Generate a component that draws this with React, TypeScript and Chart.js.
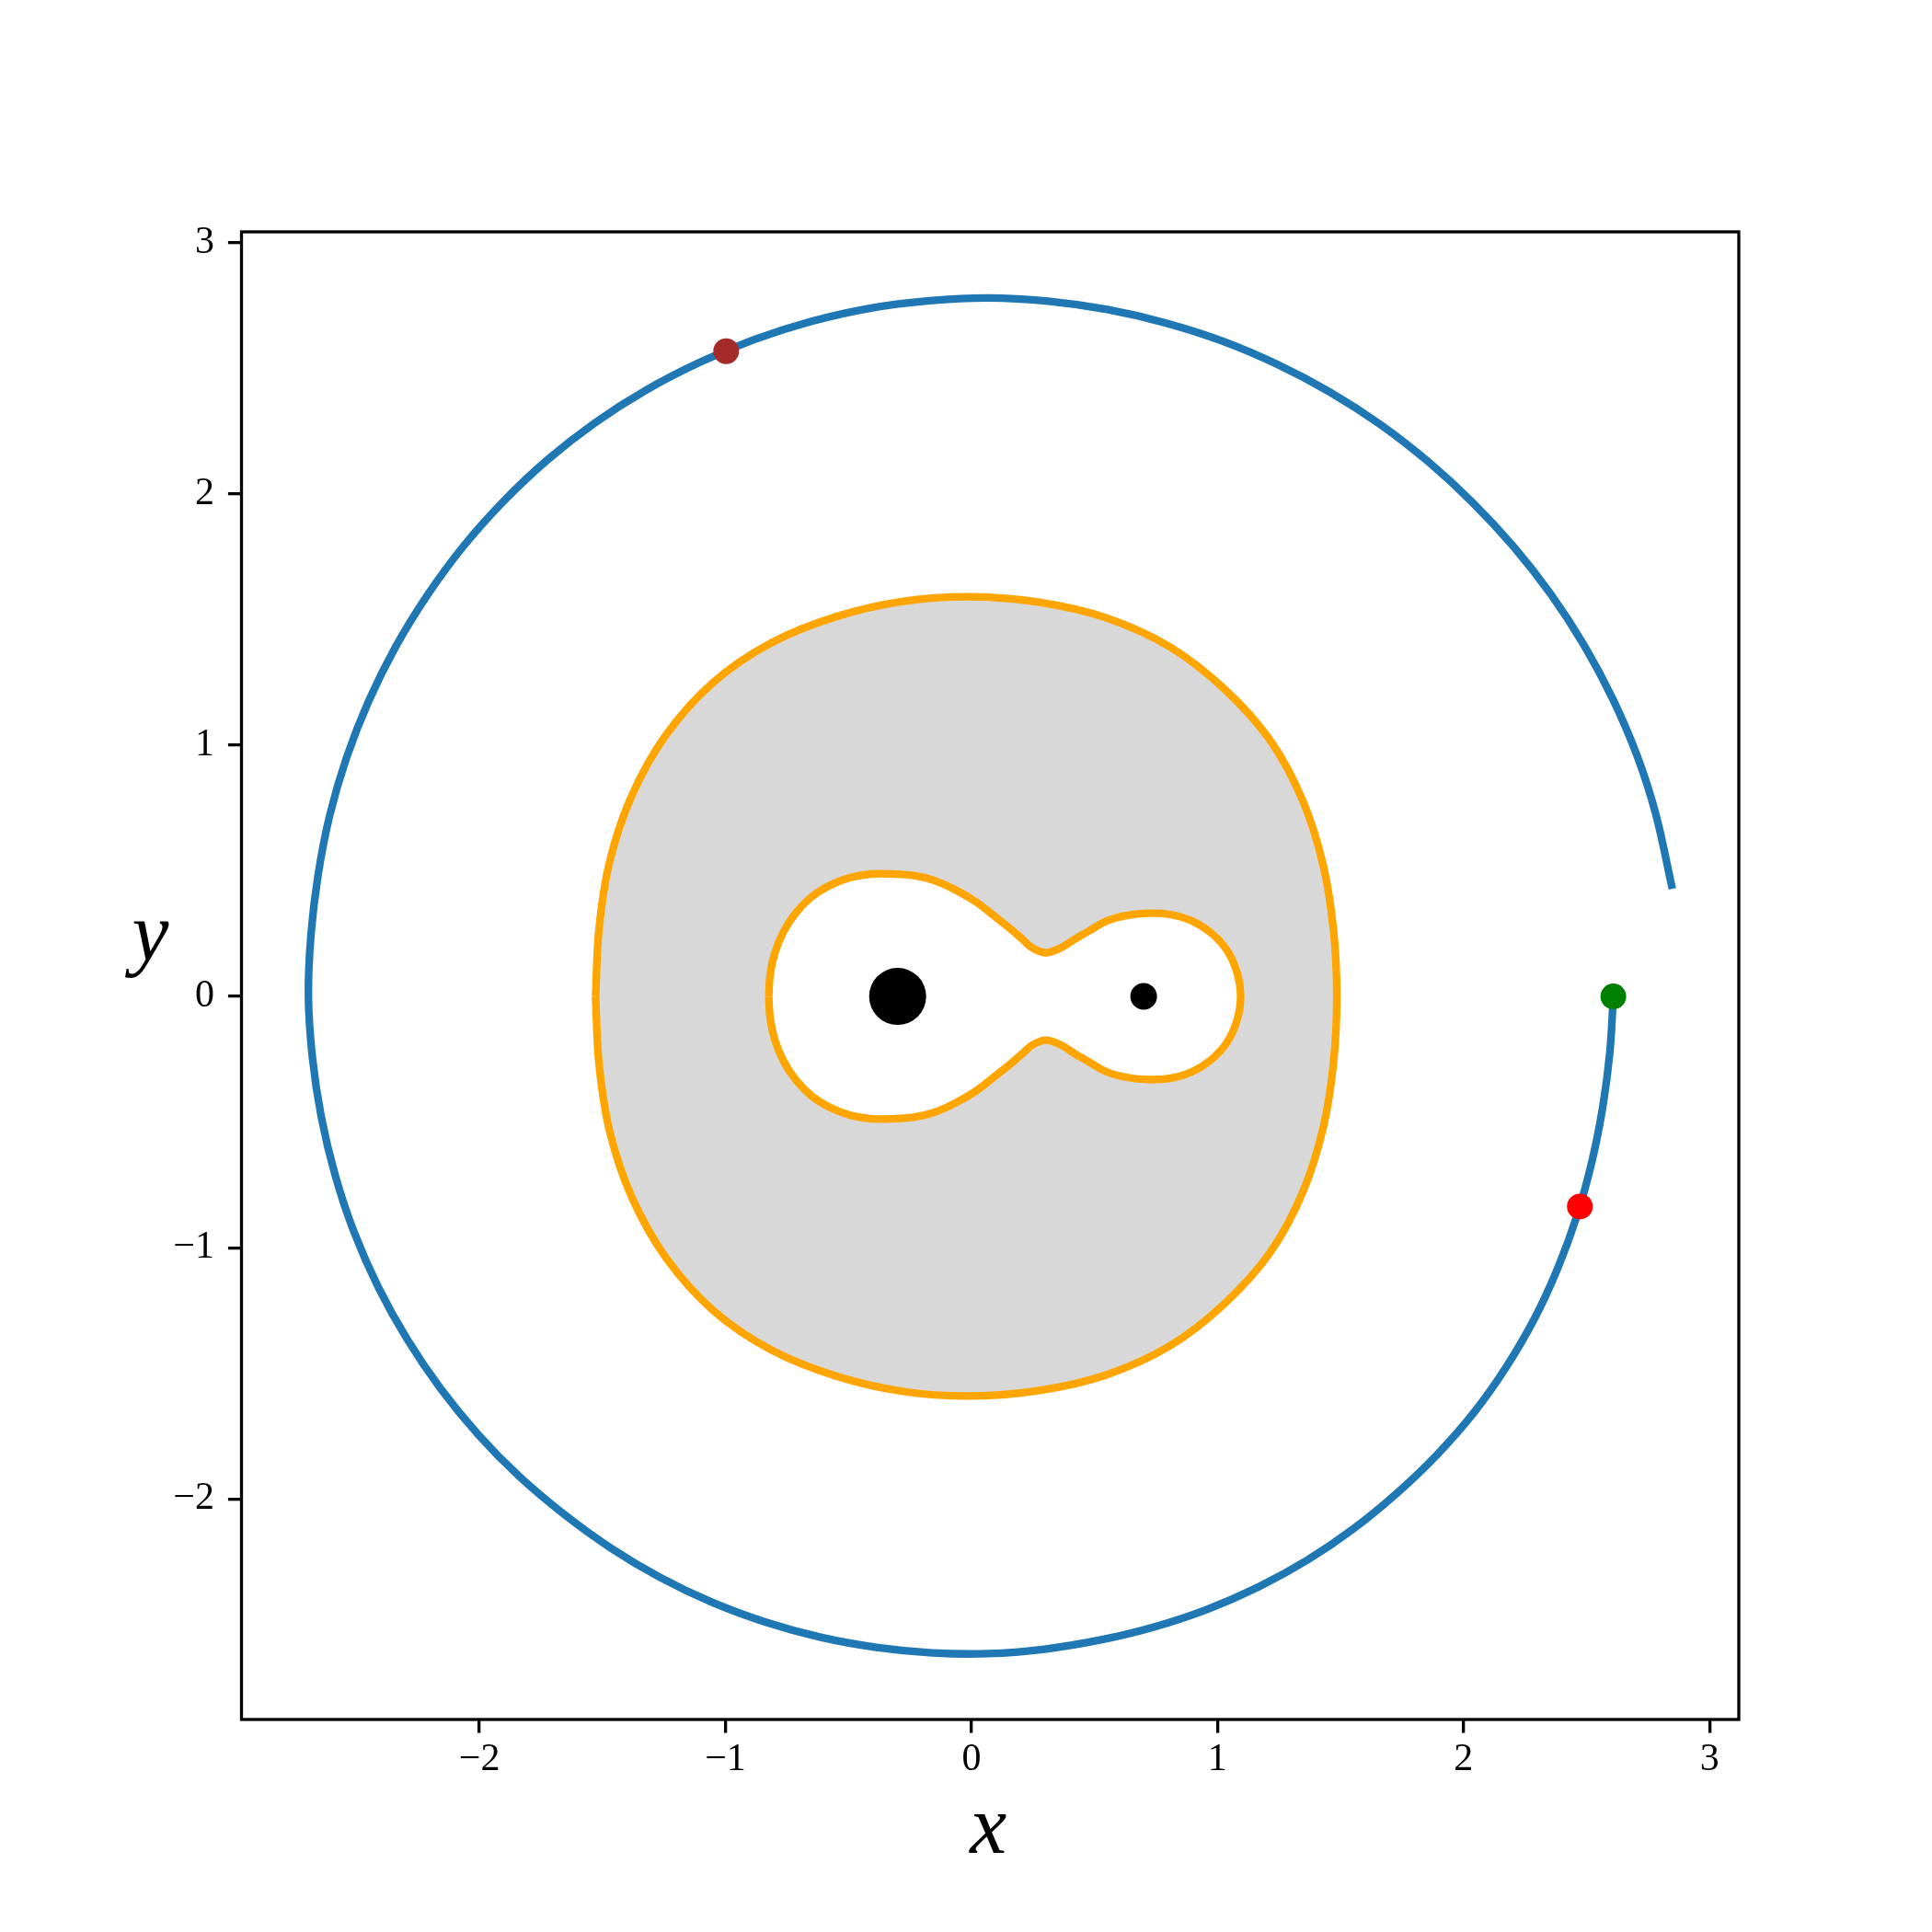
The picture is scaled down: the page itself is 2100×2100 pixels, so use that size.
import React, { useEffect, useRef } from 'react';
import { Chart, registerables } from 'chart.js';

Chart.register(...registerables);

// ---- axis ticks ----
const xTickValues = [-2, -1, 0, 1, 2, 3];
const yTickValues = [-2, -1, 0, 1, 2, 3];

// ---- trajectory (blue), starting at the green point ----
const trajectoryX = [
  2.609, 2.595, 2.566, 2.522, 2.462, 2.384, 2.289, 2.174, 2.043, 1.893,
  1.729, 1.553, 1.365, 1.166, 0.958, 0.742, 0.522, 0.297, 0.070, -0.159,
  -0.387, -0.613, -0.836, -1.054, -1.265, -1.467, -1.658, -1.839, -2.006, -2.158,
  -2.293, -2.411, -2.509, -2.586, -2.643, -2.679, -2.695, -2.685, -2.656, -2.609,
  -2.540, -2.450, -2.340, -2.211, -2.065, -1.901, -1.722, -1.529, -1.323, -1.106,
  -0.881, -0.650, -0.413, -0.172, 0.070, 0.312, 0.552, 0.788, 1.019, 1.243,
  1.458, 1.663, 1.856, 2.036, 2.203, 2.355, 2.490, 2.607, 2.705, 2.781,
  2.849,
];
const trajectoryY = [
  0.000, -0.221, -0.440, -0.657, -0.870, -1.079, -1.281, -1.474, -1.655, -1.823,
  -1.977, -2.118, -2.243, -2.350, -2.439, -2.509, -2.561, -2.597, -2.615, -2.612,
  -2.590, -2.550, -2.490, -2.411, -2.312, -2.194, -2.059, -1.909, -1.742, -1.560,
  -1.365, -1.157, -0.939, -0.712, -0.478, -0.241, 0.000, 0.241, 0.481, 0.718,
  0.950, 1.175, 1.392, 1.597, 1.791, 1.971, 2.136, 2.283, 2.412, 2.522,
  2.614, 2.686, 2.738, 2.768, 2.779, 2.766, 2.733, 2.680, 2.608, 2.515,
  2.404, 2.275, 2.128, 1.966, 1.790, 1.600, 1.397, 1.183, 0.959, 0.727,
  0.428,
];

// ---- outer zero-velocity contour (orange, grey inside) ----
const outerContourX = [
  -1.528, -1.514, -1.471, -1.381, -1.241, -1.049, -0.813, -0.550, -0.277, 0.000,
  0.276, 0.548, 0.804, 1.027, 1.214, 1.347, 1.430, 1.472, 1.485,
  1.472, 1.430, 1.347, 1.214, 1.027, 0.804, 0.548, 0.276, 0.000,
  -0.277, -0.550, -0.813, -1.049, -1.241, -1.381, -1.471, -1.514, -1.528,
];
const outerContourY = [
  0.000, 0.267, 0.535, 0.798, 1.041, 1.250, 1.407, 1.511, 1.572, 1.590,
  1.568, 1.506, 1.392, 1.224, 1.019, 0.778, 0.521, 0.260, 0.000,
  -0.260, -0.521, -0.778, -1.019, -1.224, -1.392, -1.506, -1.568, -1.590,
  -1.572, -1.511, -1.407, -1.250, -1.041, -0.798, -0.535, -0.267, 0.000,
];

// ---- inner zero-velocity contour (orange, white inside) ----
const innerContourX = [
  -0.824, -0.818, -0.799, -0.764, -0.715, -0.651, -0.575, -0.492, -0.406, -0.320,
  -0.235, -0.153, -0.067, 0.019, 0.091, 0.162, 0.205, 0.248, 0.303, 0.363,
  0.420, 0.477, 0.549, 0.630, 0.720, 0.807, 0.894, 0.973, 1.038, 1.079,
  1.094,
  1.079, 1.038, 0.973, 0.894, 0.807, 0.720, 0.630, 0.549, 0.477, 0.420,
  0.363, 0.303, 0.248, 0.205, 0.162, 0.091, 0.019, -0.067, -0.153, -0.235,
  -0.320, -0.406, -0.492, -0.575, -0.651, -0.715, -0.764, -0.799, -0.818, -0.824,
];
const innerContourY = [
  0.000, 0.088, 0.174, 0.257, 0.331, 0.395, 0.442, 0.473, 0.487, 0.487,
  0.481, 0.462, 0.425, 0.376, 0.321, 0.266, 0.229, 0.193, 0.174, 0.193,
  0.228, 0.260, 0.300, 0.322, 0.331, 0.326, 0.301, 0.253, 0.184, 0.096,
  0.000,
  -0.096, -0.184, -0.253, -0.301, -0.326, -0.331, -0.322, -0.300, -0.260, -0.228,
  -0.193, -0.174, -0.193, -0.229, -0.266, -0.321, -0.376, -0.425, -0.462, -0.481,
  -0.487, -0.487, -0.473, -0.442, -0.395, -0.331, -0.257, -0.174, -0.088, 0.000,
];

// ---- primaries (black) ----
const primaryX = [-0.3, 0.7];
const primaryY = [0, 0];

// ---- marked positions: start (green), red, brown ----
const markerX = [2.609, 2.473, -0.997];
const markerY = [0.0, -0.836, 2.567];

const toPoints = (xs: number[], ys: number[]) => xs.map((x, i) => ({ x, y: ys[i] }));

const FONT = '"Liberation Serif", "DejaVu Serif", serif';
const fmt = (v: any) => {
  const n = Number(v);
  return n < 0 ? '\u2212' + Math.abs(n) : String(n);
};

const framePlugin = {
  id: 'frameAndLabels',
  afterDatasetsDraw(chart: any) {
    const { ctx, chartArea: a } = chart;
    ctx.save();
    ctx.strokeStyle = '#000';
    ctx.lineWidth = 3.3;
    ctx.strokeRect(a.left, a.top, a.right - a.left, a.bottom - a.top);
    ctx.restore();
  },
  afterDraw(chart: any) {
    const { ctx, chartArea: a } = chart;
    ctx.save();
    ctx.fillStyle = '#000';
    ctx.font = 'italic 90px ' + FONT;
    ctx.textAlign = 'center';
    ctx.textBaseline = 'alphabetic';
    ctx.fillText('x', (a.left + a.right) / 2 - 2, a.bottom + 145);
    ctx.fillText('y', a.left - 99, a.top + 792);
    ctx.restore();
  },
};

export default function App() {
  const ref = useRef<HTMLCanvasElement>(null);

  useEffect(() => {
    if (!ref.current) return;
    const lineCommon = {
      showLine: true,
      pointRadius: 0,
      pointHoverRadius: 0,
      tension: 0.35,
      borderJoinStyle: 'round' as const,
      borderCapStyle: 'butt' as const,
    };
    const chart = new Chart(ref.current, {
      type: 'scatter',
      data: {
        datasets: [
          {
            label: 'markers',
            data: toPoints(markerX, markerY),
            pointRadius: 14,
            pointHoverRadius: 14,
            pointBorderWidth: 0,
            pointBackgroundColor: ['#008000', '#ff0000', '#a52a2a'],
            pointBorderColor: ['#008000', '#ff0000', '#a52a2a'],
            showLine: false,
          },
          {
            label: 'primaries',
            data: toPoints(primaryX, primaryY),
            pointRadius: [31, 14.5],
            pointHoverRadius: [31, 14.5],
            pointBorderWidth: 0,
            pointBackgroundColor: '#000',
            pointBorderColor: '#000',
            showLine: false,
          },
          {
            ...lineCommon,
            label: 'trajectory',
            data: toPoints(trajectoryX, trajectoryY),
            borderColor: '#1f77b4',
            borderWidth: 8.3,
            fill: false,
          },
          {
            ...lineCommon,
            label: 'inner contour',
            data: toPoints(innerContourX, innerContourY),
            borderColor: '#ffa500',
            borderWidth: 8.3,
            backgroundColor: '#ffffff',
            fill: 'shape',
          },
          {
            ...lineCommon,
            label: 'outer contour',
            data: toPoints(outerContourX, outerContourY),
            borderColor: '#ffa500',
            borderWidth: 8.3,
            backgroundColor: '#d8d8d8',
            fill: 'shape',
          },
        ] as any,
      },
      options: {
        responsive: false,
        animation: false,
        devicePixelRatio: 1,
        events: [],
        layout: { padding: { top: 252, right: 210, bottom: 0, left: 0 } },
        plugins: {
          legend: { display: false },
          tooltip: { enabled: false },
          title: { display: false },
        },
        scales: {
          x: {
            type: 'linear',
            position: 'bottom',
            min: -2.967,
            max: 3.119,
            afterBuildTicks: (s: any) => {
              s.ticks = xTickValues.map((v) => ({ value: v }));
            },
            afterFit: (s: any) => {
              s.height = 231;
            },
            grid: {
              display: true,
              drawOnChartArea: false,
              drawTicks: true,
              tickLength: 14.6,
              tickWidth: 3.3,
              tickColor: '#000',
              color: '#000',
              lineWidth: 3.3,
            },
            border: { display: false },
            ticks: {
              font: { family: FONT, size: 42 },
              color: '#000',
              padding: 4,
              autoSkip: false,
              maxRotation: 0,
              minRotation: 0,
              callback: fmt,
            },
          },
          y: {
            type: 'linear',
            position: 'left',
            min: -2.877,
            max: 3.042,
            afterBuildTicks: (s: any) => {
              s.ticks = yTickValues.map((v) => ({ value: v }));
            },
            afterFit: (s: any) => {
              s.width = 262.5;
            },
            grid: {
              display: true,
              drawOnChartArea: false,
              drawTicks: true,
              tickLength: 14.6,
              tickWidth: 3.3,
              tickColor: '#000',
              color: '#000',
              lineWidth: 3.3,
            },
            border: { display: false },
            ticks: {
              font: { family: FONT, size: 42 },
              color: '#000',
              padding: 15,
              autoSkip: false,
              callback: fmt,
            },
          },
        },
      } as any,
      plugins: [framePlugin],
    });
    return () => chart.destroy();
  }, []);

  return (
    <div style={{ position: 'absolute', left: 0, top: 0, width: 2100, height: 2100, background: '#ffffff' }}>
      <canvas ref={ref} width={2100} height={2100} style={{ width: 2100, height: 2100, display: 'block' }} />
    </div>
  );
}
